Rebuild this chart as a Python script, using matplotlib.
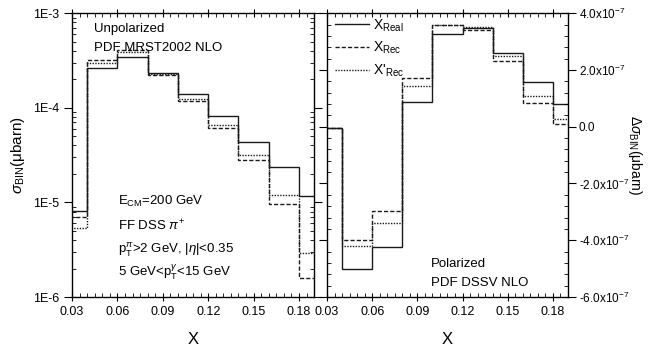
import numpy as np
import matplotlib
matplotlib.use("Agg")
import matplotlib.pyplot as plt
from matplotlib.ticker import MultipleLocator, FixedLocator, FixedFormatter, LogLocator, NullFormatter, AutoMinorLocator

plt.rcParams['font.family'] = ['Liberation Sans', 'DejaVu Sans']
plt.rcParams['mathtext.fontset'] = 'custom'
plt.rcParams['mathtext.rm'] = 'Liberation Sans'
plt.rcParams['mathtext.it'] = 'Liberation Sans:italic'

# bin edges in X
edges = [0.02, 0.04, 0.06, 0.08, 0.10, 0.12, 0.14, 0.16, 0.18, 0.20]

# unpolarized cross section per bin (ubarn)
unpol_real = [8.2e-6, 2.65e-4, 3.47e-4, 2.32e-4, 1.39e-4, 8.1e-5, 4.36e-5, 2.35e-5, 1.17e-5]
unpol_rec = [7.0e-6, 3.2e-4, 4.07e-4, 2.23e-4, 1.19e-4, 6.1e-5, 2.8e-5, 9.7e-6, 1.6e-6]
unpol_rec2 = [5.4e-6, 2.95e-4, 3.9e-4, 2.28e-4, 1.24e-4, 6.6e-5, 3.2e-5, 1.2e-5, 2.95e-6]

# polarized cross section difference per bin (ubarn)
pol_real = [-0.05e-7, -5.0e-7, -4.24e-7, 0.86e-7, 3.26e-7, 3.47e-7, 2.6e-7, 1.57e-7, 0.81e-7]
pol_rec = [-0.05e-7, -4.0e-7, -2.96e-7, 1.71e-7, 3.58e-7, 3.41e-7, 2.3e-7, 0.83e-7, 0.1e-7]
pol_rec2 = [-0.05e-7, -4.2e-7, -3.39e-7, 1.42e-7, 3.6e-7, 3.53e-7, 2.5e-7, 1.09e-7, 0.27e-7]

x_ticks = [0.03, 0.06, 0.09, 0.12, 0.15, 0.18]
x_tick_labels = ["0.03", "0.06", "0.09", "0.12", "0.15", "0.18"]
log_ticks = [1e-6, 1e-5, 1e-4, 1e-3]
log_tick_labels = ["1E-6", "1E-5", "1E-4", "1E-3"]
lin_ticks = [-6e-7, -4e-7, -2e-7, 0.0, 2e-7, 4e-7]
lin_tick_labels = ["-6.0x10$^{-7}$", "-4.0x10$^{-7}$", "-2.0x10$^{-7}$", "0.0",
                   "2.0x10$^{-7}$", "4.0x10$^{-7}$"]

styles = [
    dict(color='#1a1a1a', lw=1.0, ls='-'),
    dict(color='#1a1a1a', lw=1.0, ls=(0, (3, 1.5))),
    dict(color='#1a1a1a', lw=1.0, ls=(0, (1, 1))),
]
labels = [r"X$_{\mathrm{Real}}$", r"X$_{\mathrm{Rec}}$", r"X'$_{\mathrm{Rec}}$"]

fig = plt.figure(figsize=(6.49, 3.47), dpi=100)
ax1 = fig.add_axes([0.111, 0.144, 0.373, 0.818])
ax2 = fig.add_axes([0.504, 0.144, 0.371, 0.818])

for vals, st in zip([unpol_real, unpol_rec, unpol_rec2], styles):
    ax1.stairs(vals, edges, baseline=None, **st)
handles = []
for vals, st, lab in zip([pol_real, pol_rec, pol_rec2], styles, labels):
    ax2.stairs(vals, edges, baseline=None, **st)
    handles.append(plt.Line2D([], [], **st, label=lab))

ax1.set_yscale('log')
ax1.set_ylim(1e-6, 1e-3)
ax1.yaxis.set_major_locator(FixedLocator(log_ticks))
ax1.yaxis.set_major_formatter(FixedFormatter(log_tick_labels))
ax1.yaxis.set_minor_locator(LogLocator(base=10, subs=np.arange(2, 10)))
ax1.yaxis.set_minor_formatter(NullFormatter())
ax1.set_ylabel(r"$\sigma_{\mathrm{BIN}}$(μbarn)", fontsize=11, labelpad=4)

ax2.set_ylim(-6e-7, 4e-7)
ax2.yaxis.set_major_locator(FixedLocator(lin_ticks))
ax2.yaxis.set_major_formatter(FixedFormatter(lin_tick_labels))
ax2.yaxis.set_minor_locator(AutoMinorLocator(5))
ax2.yaxis.tick_right()
ax2.yaxis.set_label_position('right')
ax2.set_ylabel(r"$\Delta\sigma_{\mathrm{BIN}}$(μbarn)", fontsize=10, rotation=270,
               va='center', ha='center')
ax2.yaxis.set_label_coords(1.28, 0.5)

for ax in (ax1, ax2):
    ax.set_xlim(0.03, 0.19)
    ax.xaxis.set_major_locator(FixedLocator(x_ticks))
    ax.xaxis.set_major_formatter(FixedFormatter(x_tick_labels))
    ax.xaxis.set_minor_locator(MultipleLocator(0.005))
    ax.set_xlabel("X", fontsize=12, labelpad=10)
    ax.tick_params(which='major', direction='inout', length=6, width=0.8, labelsize=9,
                   top=True, bottom=True, left=True, right=True)
    ax.tick_params(which='minor', direction='in', length=3, width=0.6,
                   top=True, bottom=True, left=True, right=True)
    for sp in ax.spines.values():
        sp.set_linewidth(1.0)

ax1.tick_params(axis='y', which='major', direction='out', labelleft=True, labelright=False)
ax2.tick_params(axis='y', which='major', direction='out', labelleft=False, labelright=True,
                labelsize=8.5, pad=2)

# annotations
ax1.text(0.09, 0.965, "Unpolarized", transform=ax1.transAxes, fontsize=9.5, va='top')
ax1.text(0.09, 0.90, "PDF MRST2002 NLO", transform=ax1.transAxes, fontsize=9.5, va='top')
ax1.text(0.19, 0.335, r"E$_{\mathrm{CM}}$=200 GeV", transform=ax1.transAxes, fontsize=9.5, va='center')
ax1.text(0.19, 0.25, r"FF DSS $\pi^{+}$", transform=ax1.transAxes, fontsize=9.5, va='center')
ax1.text(0.19, 0.165, r"p$_{\mathrm{T}}^{\pi}$>2 GeV, |$\eta$|<0.35", transform=ax1.transAxes,
         fontsize=9.5, va='center')
ax1.text(0.19, 0.085, r"5 GeV<p$_{\mathrm{T}}^{\gamma}$<15 GeV", transform=ax1.transAxes,
         fontsize=9.5, va='center')

ax2.text(0.43, 0.115, "Polarized", transform=ax2.transAxes, fontsize=9.5, va='center')
ax2.text(0.43, 0.05, "PDF DSSV NLO", transform=ax2.transAxes, fontsize=9.5, va='center')

ax2.legend(handles=handles, loc='upper left', bbox_to_anchor=(0.0, 1.015), frameon=False,
           fontsize=10, handlelength=2.4, handletextpad=0.3, labelspacing=0.45,
           borderaxespad=0.2)

fig.savefig("out.png", dpi=100)
